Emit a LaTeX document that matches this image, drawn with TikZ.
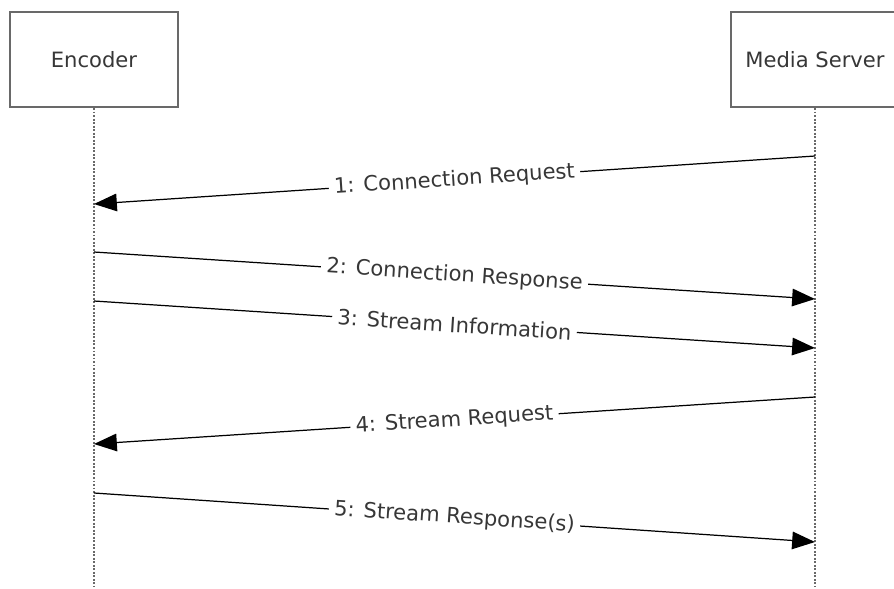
\documentclass[tikz,border=0pt]{standalone}
\usepackage{fontspec}
\setmainfont{DejaVu Sans}
\usetikzlibrary{arrows.meta}
\definecolor{boxgray}{RGB}{105,105,105}
\definecolor{textgray}{RGB}{55,55,55}
\tikzset{actor/.style = {draw=boxgray, fill=white, line width=1.2pt, rectangle, minimum height=1.9cm, minimum width=3.36cm, text=textgray, font=\fontsize{12}{14}\selectfont},
         life/.style = {draw=boxgray, line width=1.3pt, dash pattern=on 1.1pt off 0.9pt},
         msg/.style = {-{Triangle[length=13pt,width=10pt]}, line width=0.7pt},
         lbl/.style = {fill=white, sloped, midway, inner sep=3pt, text=textgray, font=\fontsize{12}{14}\selectfont}}

\begin{document}
\begin{tikzpicture}[x=0.02cm,y=-0.02cm]
    \useasboundingbox(0,0)rectangle(894,589);
    \clip(0,0)rectangle(894,589);
    \node[actor](enc)at(94,59.5){Encoder};
    \node[actor](srv)at(815,59.5){Media Server};
    \coordinate(encEnd)at(94,586);
    \coordinate(srvEnd)at(815,586);
    \draw[life](enc.south)--(encEnd);
    \draw[life](srv.south)--(srvEnd);
    % message ends on the lifelines
    \coordinate(s1)at(815,156); \coordinate(e1)at(94,204);
    \coordinate(e2)at(94,252);  \coordinate(s2)at(815,299);
    \coordinate(e3)at(94,301);  \coordinate(s3)at(815,348);
    \coordinate(s4)at(815,397); \coordinate(e4)at(94,444);
    \coordinate(e5)at(94,493);  \coordinate(s5)at(815,542);
    \draw[msg](s1)--(e1)node[lbl]{1: Connection Request};
    \draw[msg](e2)--(s2)node[lbl]{2: Connection Response};
    \draw[msg](e3)--(s3)node[lbl]{3: Stream Information};
    \draw[msg](s4)--(e4)node[lbl]{4: Stream Request};
    \draw[msg](e5)--(s5)node[lbl]{5: Stream Response(s)};
\end{tikzpicture}
\end{document}
